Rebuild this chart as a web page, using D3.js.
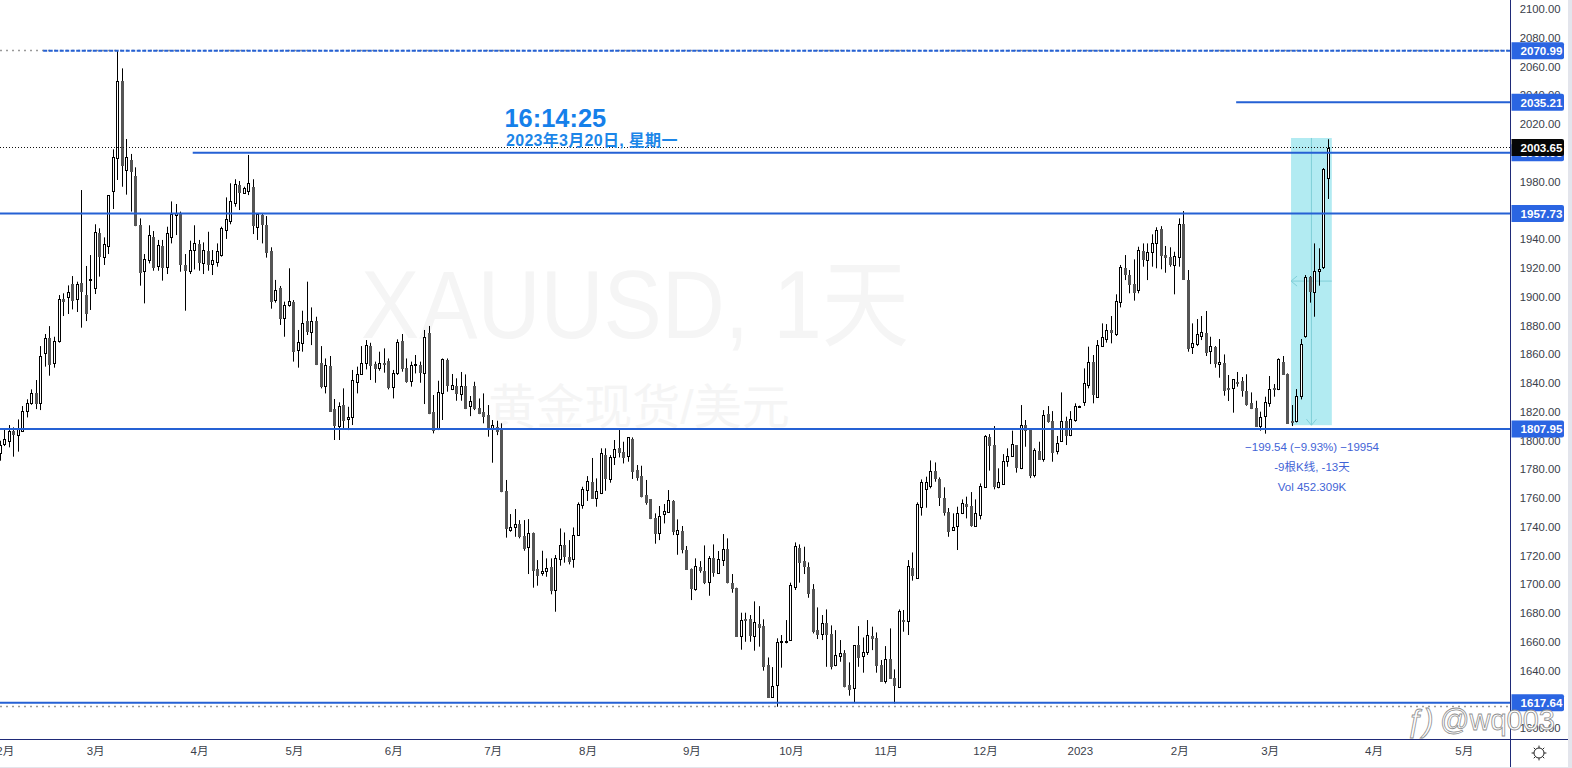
<!DOCTYPE html>
<html><head><meta charset="utf-8">
<script src="https://cdn.jsdelivr.net/npm/d3@7"></script>
<style>
html,body{margin:0;padding:0;background:#fff;overflow:hidden}
svg{display:block}
text{font-family:"Liberation Sans","Noto Sans CJK SC",sans-serif}
</style></head><body>
<svg id="c" width="1572" height="768"></svg>
<script>
const highs=[1799.8,1808.4,1810.7,1809.1,1814.6,1823.9,1828.6,1835.5,1842,1865.6,
1874,1879.5,1872.1,1901.1,1902.3,1907.8,1914.3,1910.4,1974.1,1921.3,
1928.9,1950.3,1947.5,1941.2,1970.6,2002.4,2070.99,2058.7,2009.6,1999.2,
1989.9,1954.4,1929.6,1949.6,1945.6,1939.4,1939.4,1948.6,1966.2,1964.4,
1959.1,1929.6,1938.9,1949.6,1939.4,1937.7,1945.1,1932.4,1937,1948.6,
1969,1978.8,1981.6,1980.4,1976.4,1998.5,1981.6,1957.9,1957.4,1956,
1934.3,1911.6,1907.4,1896.5,1919.7,1897.6,1876.8,1890.2,1910.4,1892.5,
1886,1865.6,1857,1858.7,1828.8,1826.5,1836.2,1823.4,1849,1851.3,
1865.6,1869.8,1867.9,1854.8,1861.7,1864,1857,1849,1870.3,1874,
1857,1854.8,1859.4,1854.8,1876.8,1879.6,1831.6,1841.5,1857,1857,
1846.2,1843.2,1847.6,1845.9,1830.9,1840.8,1829.2,1832.7,1824.6,1814.2,
1813.7,1811.9,1772.5,1748.8,1752.3,1744.6,1744.6,1745.3,1736,1716.8,
1723.3,1718,1718,1720.3,1738.8,1736,1730.7,1739.5,1756.9,1767.8,
1775.2,1787.8,1773.6,1794.5,1794.5,1789.8,1800.3,1807.9,1799.1,1802.1,
1802.1,1782.9,1782.4,1772.5,1759.2,1749.3,1754.4,1755.8,1765.5,1758.5,
1745.1,1740.5,1726.6,1711,1718,1716.1,1727,1719.6,1727.7,1723.1,
1734.9,1731.9,1707.1,1697.6,1680.2,1680.2,1678.6,1688.1,1684.8,1675.6,
1649.1,1642.4,1662.4,1664.7,1675.1,1701.1,1729.1,1727.7,1726.1,1715.2,
1700.1,1683.9,1678.6,1682.5,1671.4,1668.1,1661.2,1654.2,1645.7,1657.7,
1670.9,1663,1675.1,1670.5,1666.5,1647.3,1657,1669.3,1640.8,1682.5,
1682.1,1716.8,1722.1,1756.9,1772.9,1774.8,1786.1,1784.7,1774.3,1767.4,
1753,1749.3,1753.9,1759,1760.9,1764.1,1759,1770.1,1803.7,1804.4,
1810,1780.6,1790.5,1794.5,1806.8,1796.8,1824.6,1814.2,1808.4,1794.5,
1799.1,1821.1,1823.9,1820.4,1803.1,1833.4,1816.5,1820.4,1825.8,1824.2,
1850.1,1865.2,1859.4,1869.8,1881.4,1880.9,1886.5,1901.6,1922,1928.9,
1918.5,1925.9,1934.7,1937,1937,1943.3,1948.2,1949,1935.2,1934.3,
1931.2,1954.4,1959.5,1918.5,1881.4,1884.4,1886.5,1890,1872.1,1865.6,
1870.5,1859.8,1845.5,1842.5,1847.6,1844.1,1846,1833.4,1827.6,1820,
1830.4,1844.8,1839.2,1857.1,1858.7,1846.6,1824.6,1835.7,1870.5,1915,
1914.3,1937,1933.6,1989.4,2009.4];
const lows=[1785.9,1796.1,1795.2,1788.7,1792.2,1806.1,1816,1824.8,1821.8,1821.1,
1851.3,1845,1850.6,1868,1886.5,1887.9,1891.1,1889.3,1878.4,1883,
1890.7,1901.8,1913.9,1922,1929.6,1960.9,1981.1,1976.4,1970.9,1959.1,
1949,1907.6,1895.3,1923.1,1918,1918,1911.1,1915.7,1937,1942.8,
1917.3,1890.2,1915.7,1918.9,1918,1915.7,1918,1915,1920.8,1927.8,
1940.1,1950.3,1962.5,1960.2,1971.8,1970.6,1943.5,1939.4,1937,1927.1,
1891.6,1895.8,1880.3,1872.1,1893,1854.8,1850.6,1861.7,1873.3,1866.3,
1852.4,1836.2,1832.7,1820,1800.3,1800.3,1807.7,1807.2,1810.7,1832.7,
1845.5,1849.4,1842,1840.1,1848.5,1847.1,1835.5,1829.2,1845.5,1847.8,
1840.1,1837.4,1846.6,1840.1,1825.3,1818.3,1804.9,1807.2,1814.2,1833.9,
1835,1827.6,1827.6,1821.8,1816.9,1821.1,1818.3,1811.9,1802.6,1784.5,
1803.7,1764,1732.4,1736.5,1733,1731.9,1723.3,1707.1,1697.6,1699,
1705.9,1705.2,1693,1680.9,1712.9,1715,1713.8,1711.5,1733.8,1752.5,
1757.9,1760,1753.9,1762.7,1765,1770.6,1782.9,1788.2,1784,1785.2,
1773.2,1772,1760.4,1755.3,1745.3,1728.2,1730.7,1742.3,1750,1734.2,
1720.5,1721.5,1710.6,1689,1695.5,1708,1700.1,1692,1705.2,1707.5,
1712.7,1700.6,1694.1,1663.5,1654.5,1660,1660,1653.8,1656.6,1639.9,
1621.3,1621,1614.8,1642,1658.9,1660.7,1696,1701.1,1707.1,1690.6,
1665.8,1661.9,1661.2,1642.6,1640.8,1643,1646.1,1628.3,1622.5,1617.6,
1642.6,1638.5,1650.8,1654.2,1638.5,1632.2,1631,1634.5,1617.1,1628,
1667,1664.7,1702.5,1704.1,1747.7,1753.2,1766.7,1771.3,1754.4,1747.7,
1733,1737.2,1723.8,1748.8,1745.8,1740,1739.8,1745.1,1767.4,1779,
1766,1766.7,1769,1781.7,1788.7,1777.6,1780,1795.6,1773.8,1774.3,
1786.4,1785.2,1812.3,1785.2,1790.3,1799.5,1796.8,1803,1813,1823.6,
1824,1836.2,1825.8,1829.9,1865,1868,1867.5,1872.6,1892.5,1911.5,
1902.3,1897.2,1902.3,1920.8,1911.5,1920.8,1919.7,1919,1916.6,1920.8,
1901.6,1920.8,1912,1861.7,1860.1,1865.6,1869.8,1858.7,1853.1,1850.6,
1843.6,1831.1,1827.4,1819.3,1837.4,1830.4,1824.1,1821.8,1809.5,1806.8,
1804.7,1823.4,1830.4,1835,1845.5,1812,1810,1812.5,1828.5,1871.4,
1895.8,1886,1907.6,1919.2,1967.9];
const opens=[1791.5,1797.2,1799.8,1806.8,1804,1806.3,1820,1825.5,1833,1826.2,
1860.5,1871.2,1853.3,1869.1,1898.6,1899.2,1908.5,1898.1,1909.2,1901.1,
1911,1906.2,1944,1927.3,1934.9,1973.9,1996.2,2049.9,1987.8,1995,
1983.9,1949.8,1917.3,1925.5,1941.4,1921.5,1935.2,1920.1,1941.7,1956.3,
1957.9,1921.9,1918,1931.9,1936.6,1923.6,1931.7,1922.7,1923.8,1928.9,
1945.9,1952.1,1965.1,1977.4,1972.3,1973,1976.2,1948.6,1956.7,1949.8,
1931.9,1897.6,1906,1885.3,1894.2,1896.2,1862.4,1867.5,1883,1875.6,
1882.8,1853.6,1837.3,1851.7,1821.6,1810.2,1824.6,1814.6,1816,1840.8,
1846.2,1853.6,1865.6,1853.1,1850.1,1853.6,1855.2,1836.9,1846.6,1869.1,
1850.1,1841.5,1852.2,1852.4,1847.1,1874.4,1820,1807.7,1832.7,1855.9,
1835.7,1837.8,1832,1837.8,1823.4,1837.8,1822.3,1819.5,1817.7,1807.7,
1809.6,1808.4,1764.8,1737.9,1740,1741.9,1733.5,1725.6,1735.6,1710.6,
1707.3,1708.7,1712,1695.5,1717.3,1727,1718.9,1717.3,1734,1755.3,
1765,1771.1,1760.2,1763.7,1789.8,1773.4,1788.2,1794.5,1791.9,1788.7,
1801,1779.4,1775.2,1762,1759,1746,1735.8,1748.4,1750.4,1757.8,
1734.9,1736.8,1723.8,1710.6,1696.7,1711.7,1709.2,1701.8,1718,1708,
1716.4,1724.7,1700.8,1697.4,1663.7,1675.6,1675.6,1664.2,1672.3,1670.9,
1643.6,1621.3,1629.4,1659.6,1659.8,1661.2,1697.8,1725.2,1715.9,1711.9,
1696.7,1668.1,1665.4,1672.8,1665.4,1643.3,1649.6,1651.9,1629.9,1627.6,
1657.5,1649.6,1652.4,1664,1662.6,1643.8,1632.2,1648,1634.5,1628.3,
1675.1,1673.9,1711.5,1704.6,1753.9,1766,1768.3,1778.7,1772.9,1760,
1750.2,1737.7,1740,1749.3,1755.5,1754.4,1740,1748.4,1767.8,1802.6,
1796.6,1767.8,1769.7,1785.9,1789.2,1796.6,1780.3,1810.5,1807.9,1775.9,
1792.6,1787.3,1818.4,1813.5,1792.2,1799.8,1813.5,1803.8,1814.2,1823.8,
1826.5,1838.1,1854.3,1829.9,1865.2,1870.7,1876.5,1874.2,1896,1919.6,
1915,1908.8,1904.4,1931.7,1925,1930.8,1937,1947,1928.9,1927.8,
1921.8,1927.3,1950.5,1911.5,1864.5,1866.8,1872.1,1874.4,1861.7,1864.7,
1852.7,1853.6,1836.2,1836,1840.6,1841.1,1834.1,1825.8,1822.3,1810.5,
1816.5,1826.5,1836.2,1835.5,1854.3,1846.2,1813.5,1813,1830.4,1872.1,
1913.4,1903.4,1917.6,1920.8,1982.7];
const closes=[1796.8,1800.7,1806.5,1804.4,1807.9,1820.2,1825.8,1832.7,1826.2,1858.7,
1871,1853.3,1868.9,1898.1,1897.2,1903,1897.6,1908.5,1903.4,1888.8,
1912,1944.9,1928.2,1936.6,1970.4,1997.3,2049.9,1991.5,1996.8,1987.6,
1950,1917.3,1925.9,1942.8,1920.8,1935.9,1920.8,1944,1957.4,1957.9,
1922.2,1918.5,1932.4,1937,1924.3,1932.4,1922.7,1925.4,1931.5,1947.7,
1953.7,1966.2,1978.1,1972.7,1975.5,1978.8,1950,1957.4,1950.5,1931.2,
1897.2,1904.6,1885.1,1894.2,1896.9,1862.4,1868.2,1881.4,1876.3,1883,
1853.1,1837.3,1852.2,1820.7,1810.7,1823.9,1814.2,1816,1842,1846.2,
1853.6,1866.1,1852.4,1850.6,1853.6,1852.7,1837.3,1846.6,1868.4,1850.6,
1841.3,1852.4,1853.1,1847.8,1871.9,1818.8,1807.7,1833.6,1856.4,1838.5,
1838.5,1833.2,1837.8,1822.3,1827.2,1822.3,1818.8,1816.9,1807.7,1810.5,
1806.8,1764.6,1738.8,1739.8,1741.9,1733.5,1725.4,1735.4,1709.6,1706.6,
1709,1711,1696,1718,1727,1719.1,1715.9,1734,1755.8,1766.2,
1771.5,1760.2,1764.8,1791.2,1774.1,1788.5,1793.8,1791.5,1788.7,1802.1,
1778.9,1774.8,1761.3,1757.2,1746,1735.6,1747.4,1750.7,1758.5,1737.2,
1737.5,1724,1710.8,1697.1,1712.4,1709.4,1701.5,1718.2,1708,1717.5,
1724.2,1701.8,1697.1,1664.2,1674.9,1674.9,1664.7,1673.7,1670.5,1643.3,
1621.5,1629,1659.6,1660.5,1660.5,1699.4,1726.6,1715.7,1712.2,1694.1,
1667.7,1665.4,1672.8,1665.4,1643.1,1650.5,1651.9,1628.8,1627.4,1657.5,
1649.1,1652.6,1664.5,1662.6,1644,1632.7,1647.7,1635,1629.4,1681.4,
1674.2,1712.4,1706.6,1755.8,1771.1,1771.1,1778.7,1773.6,1760.4,1750.2,
1737.2,1739.5,1749.3,1756.2,1754.1,1741.2,1749.3,1768.3,1803,1797,
1767.8,1771.1,1785.4,1789.2,1797.3,1781,1810.5,1806.8,1775.9,1793.1,
1786.8,1817.7,1813.7,1792.2,1798,1813.5,1803.8,1814.6,1823.9,1824,
1839.7,1854.3,1832.3,1866.1,1871.7,1876.8,1874.9,1896.9,1920.3,1915.2,
1908.8,1903.4,1932.2,1925.9,1930.8,1937,1946.1,1928.9,1927.8,1923.1,
1928,1950.5,1912.2,1864.5,1867.5,1873.7,1875.1,1861,1865.4,1853.6,
1854.3,1835.1,1835.3,1842.5,1840.1,1835.1,1824.8,1822.1,1810,1816.5,
1826.5,1836,1835.5,1856.4,1845.9,1812.3,1812.8,1830.6,1866.8,1913.4,
1903.9,1918,1919,1988.7,2003.65];

const priceTicks=[2100,2080,2060,2040,2020,2000,1980,1960,1940,1920,1900,1880,1860,1840,1820,1800,1780,1760,1740,1720,1700,1680,1660,1640,1620,1600];
const monthIdx=[1,21,44,65,87,109,130,153,175,196,218,239,261,281,304,324];
const monthLabels=["2月","3月","4月","5月","6月","7月","8月","9月","10月","11月","12月","2023","2月","3月","4月","5月"];
// price levels [value, first bar index the line is anchored at]
const levelPrices=[2070.99,2035.21,1999.95,1957.73,1807.95,1617.64];
const levelStart=[9.5,273.6,42.6,-1,-1,-1];
const levelLabels=["2070.99","2035.21","1999.95","1957.73","1807.95","1617.64"];
const lastPrice=2003.65, dotLow=1615.2;
const measure={startIdx:285,endIdx:295,top:2010.3,bottom:1810.6,mid:1910.8,text:["−199.54 (−9.93%) −19954","-9根K线, -13天","Vol 452.309K"]};

const W=1568,H=767,axisX=1510.7,axisY=739.3;
const svg=d3.select("#c");
const x=d3.scaleLinear().domain([0,294]).range([0.3,1328.3]);
const y=d3.scaleLinear().domain([1617.64,2070.99]).range([702.7,50.7]);
const snap=v=>Math.round(v-0.5)+0.5;
const BLUE="#2561d4",TAG="#2b65e2",NAVY="#1f2a78",TXT="#3a3e4a";

svg.append("rect").attr("width",1572).attr("height",768).attr("fill","#e3e5ec");
svg.append("rect").attr("width",W).attr("height",H).attr("fill","#fff");

// watermarks
svg.append("text").attr("x",361).attr("y",338).attr("font-size",96).attr("fill","#f5f5f5")
 .attr("textLength",548).attr("lengthAdjust","spacingAndGlyphs").text("XAUUSD, 1天");
svg.append("text").attr("x",639).attr("y",424).attr("text-anchor","middle").attr("font-size",48).attr("fill","#f5f5f5").text("黄金现货/美元");

const plot=svg.append("g");
// measure block
const mx0=x(measure.startIdx)+3.4,mx1=x(measure.endIdx)-1,mxc=(mx0+mx1)/2;
plot.append("rect").attr("x",mx0).attr("y",y(measure.top)).attr("width",mx1-mx0).attr("height",y(measure.bottom)-y(measure.top)).attr("fill","#b2ebf2");
plot.append("path").attr("fill","none").attr("stroke","#80cfd8").attr("stroke-width",1)
 .attr("d",`M${mx0},${y(measure.mid)}H${mx1}M${mx0+6},${y(measure.mid)-5}L${mx0},${y(measure.mid)}L${mx0+6},${y(measure.mid)+5}M${mxc},${y(measure.top)}V${y(measure.bottom)}M${mxc-5},${y(measure.bottom)-6}L${mxc},${y(measure.bottom)}L${mxc+5},${y(measure.bottom)-6}`);

// dotted reference lines below candles
plot.append("line").attr("x1",0).attr("x2",axisX).attr("y1",snap(y(levelPrices[0]))).attr("y2",snap(y(levelPrices[0]))).attr("stroke","#9a9a9a").attr("stroke-width",1.4).attr("stroke-dasharray","2,4");
plot.append("line").attr("x1",0).attr("x2",axisX).attr("y1",snap(y(dotLow))).attr("y2",snap(y(dotLow))).attr("stroke","#9a9a9a").attr("stroke-width",1.4).attr("stroke-dasharray","2,4");

// candles
const bars=d3.range(highs.length);
const g=plot.append("g");
g.selectAll("line").data(bars).join("line")
 .attr("x1",i=>snap(x(i))).attr("x2",i=>snap(x(i)))
 .attr("y1",i=>y(highs[i])).attr("y2",i=>y(lows[i]))
 .attr("stroke","#000").attr("stroke-width",1);
g.selectAll("rect").data(bars).join("rect")
 .attr("x",i=>snap(x(i))-1).attr("width",2)
 .attr("y",i=>Math.round(y(Math.max(opens[i],closes[i])))+0.5)
 .attr("height",i=>Math.max(1,Math.round(Math.abs(y(opens[i])-y(closes[i])))))
 .attr("fill",i=>closes[i]>=opens[i]?"#fff":"#555")
 .attr("stroke",i=>closes[i]>=opens[i]?"#000":"#555")
 .attr("stroke-width",1);

// last price dotted
plot.append("line").attr("x1",0).attr("x2",axisX).attr("y1",snap(y(lastPrice))).attr("y2",snap(y(lastPrice))).attr("stroke","#111").attr("stroke-dasharray","1,2");

// level lines
levelPrices.forEach((p,k)=>{
  const l=plot.append("line").attr("x1",levelStart[k]<0?0:x(levelStart[k])).attr("x2",axisX)
   .attr("y1",y(p)).attr("y2",y(p)).attr("stroke",BLUE).attr("stroke-width",2);
  if(k===0) l.attr("stroke-dasharray","4,1.5");
});

// time stamp
svg.append("text").attr("x",504.5).attr("y",126.5).attr("font-size",25.4).attr("font-weight",700).attr("fill","#1580ea").text("16:14:25");
svg.append("text").attr("x",506).attr("y",146).attr("font-size",16).attr("font-weight",700).attr("letter-spacing",0.3).attr("fill","#1c86e8").text("2023年3月20日, 星期一");

// measure text
measure.text.forEach((t,k)=>svg.append("text").attr("x",1312).attr("y",451+k*20).attr("text-anchor","middle").attr("font-size",11.5).attr("fill","#3f63d6").text(t));

// axes
const right=svg.append("g").attr("transform",`translate(${axisX},0)`);
right.append("rect").attr("x",0).attr("y",0).attr("width",W-axisX).attr("height",H).attr("fill","#fff");
const yAxis=d3.axisRight(y).tickValues(priceTicks).tickFormat(d3.format(".2f")).tickSize(0).tickPadding(9);
right.call(yAxis);
right.select(".domain").remove();
right.selectAll("text").attr("font-size",11.3).attr("fill",TXT).attr("font-family",'"Liberation Sans",sans-serif');

const bottom=svg.append("g").attr("transform",`translate(0,${axisY})`);
bottom.append("rect").attr("x",0).attr("y",0).attr("width",axisX).attr("height",H-axisY).attr("fill","#fff");
const xAxis=d3.axisBottom(x).tickValues(monthIdx).tickFormat((d,i)=>monthLabels[i]).tickSize(0).tickPadding(8);
bottom.call(xAxis);
bottom.select(".domain").remove();
bottom.selectAll("text").attr("font-size",11.5).attr("fill",TXT).attr("font-family",'"Liberation Sans","Noto Sans CJK SC",sans-serif');

svg.append("line").attr("x1",0).attr("x2",W).attr("y1",snap(axisY)).attr("y2",snap(axisY)).attr("stroke",NAVY);
svg.append("line").attr("x1",snap(axisX)).attr("x2",snap(axisX)).attr("y1",0).attr("y2",H).attr("stroke",NAVY);

// price tags
function tag(label,price,fill){
  const yy=y(price);
  const t=svg.append("g").attr("transform",`translate(${axisX+0.8},${yy})`);
  t.append("path").attr("fill",fill).attr("d","M0,-8.5H50.5a2,2 0 0 1 2,2V6.5a2,2 0 0 1 -2,2H0Z");
  t.append("text").attr("x",9).attr("y",4.5).attr("font-size",11.6).attr("font-weight",700).attr("fill","#fff").text(label);
}
levelPrices.forEach((p,k)=>tag(levelLabels[k],p,TAG));
tag(lastPrice.toFixed(2),lastPrice,"#060606");

// settings icon
const gear=svg.append("g").attr("transform","translate(1539,753)").attr("stroke","#222").attr("fill","none").attr("stroke-width",1);
gear.append("circle").attr("r",5);
d3.range(8).forEach(i=>{const a=i*Math.PI/4;gear.append("line").attr("x1",5*Math.cos(a)).attr("y1",5*Math.sin(a)).attr("x2",7.4*Math.cos(a)).attr("y2",7.4*Math.sin(a));});

// site watermark
const wm=svg.append("g").attr("fill","#fff").attr("stroke","#8f8f8f").attr("stroke-width",0.8);
wm.append("text").attr("x",1440).attr("y",730).attr("font-size",29).text("@wq003");
wm.append("text").attr("x",1406).attr("y",731).attr("font-size",31).attr("font-style","italic").text("ƒ)");
</script>
</body></html>
